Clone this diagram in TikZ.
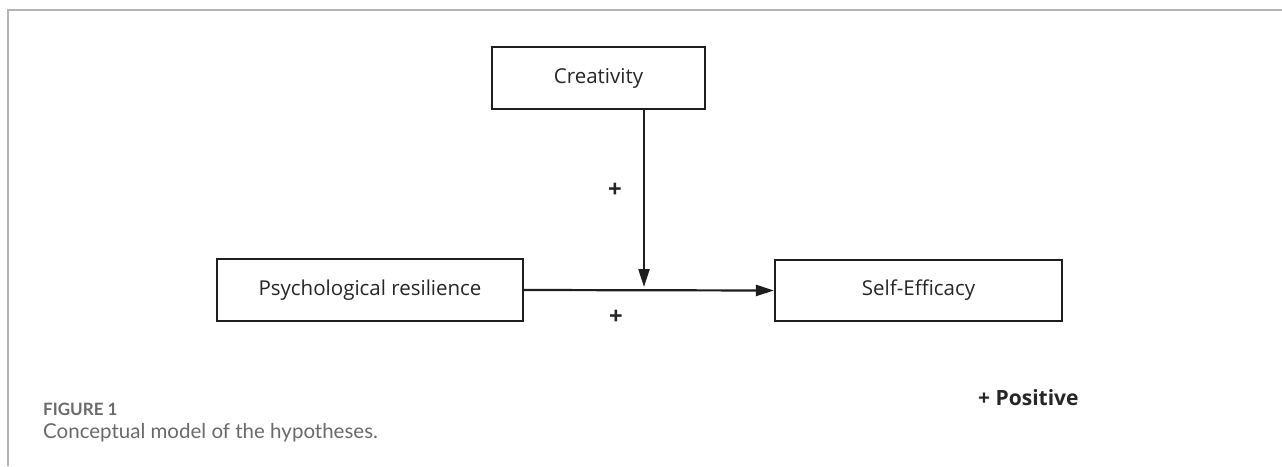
\documentclass[tikz,border=0pt]{standalone}
\usepackage{fontspec}
\setmainfont{Open Sans}
\newfontfamily\capfont{Lato}
\usetikzlibrary{arrows.meta}
\definecolor{framegray}{HTML}{B4B4B4}
\definecolor{capgray}{HTML}{6A6A6A}
\definecolor{boxline}{HTML}{1E1E1E}
\begin{document}
\begin{tikzpicture}[x=1pt,y=-1pt,
  varbox/.style={draw=boxline,line width=2.2pt,rectangle,inner sep=0pt,
    font=\fontsize{20.5}{24}\selectfont,text=black!85},
  arr/.style={draw=boxline,line width=2.2pt,-{Triangle[length=18pt,width=11pt]}},
  plus/.style={font=\fontsize{24}{26}\selectfont\bfseries,text=black!85,inner sep=0pt},
]
\useasboundingbox (0,0) rectangle (1282,466);
\fill[white] (0,0) rectangle (1282,466);
% frame
\coordinate (ftl) at (8,10);
\coordinate (ftr) at (1282,10);
\coordinate (fbl) at (8,466);
\draw[framegray,line width=1.5pt] (ftr) -- (ftl) -- (fbl);
% boxes
\node[varbox,minimum width=213pt,minimum height=62pt] (c) at (598.5,78) {Creativity};
\node[varbox,minimum width=306pt,minimum height=62pt] (p) at (370,290) {Psychological resilience};
\node[varbox,minimum width=287pt,minimum height=61pt] (s) at (918.5,290.5) {Self-Efficacy};
% connectors
\coordinate (m) at (644,287);
\draw[arr] (c.south -| m) -- (m);
\draw[arr] (p.east) -- (s.west);
\node[plus] (pl1) at (615,190) {+};
\node[plus] (pl2) at (616,317) {+};
\node[font=\fontsize{21}{25}\selectfont\bfseries,text=black!85,anchor=west,inner sep=0pt] (leg) at (978,398) {+ Positive};
% caption
\node[font=\capfont\fontsize{17}{19}\selectfont\bfseries,text=capgray,anchor=west,inner sep=0pt] (fig) at (43,409) {FIGURE 1};
\node[font=\capfont\fontsize{20.5}{24}\selectfont,text=capgray,anchor=west,inner sep=0pt] (cap) at (43,433) {Conceptual model of the hypotheses.};
\end{tikzpicture}
\end{document}
